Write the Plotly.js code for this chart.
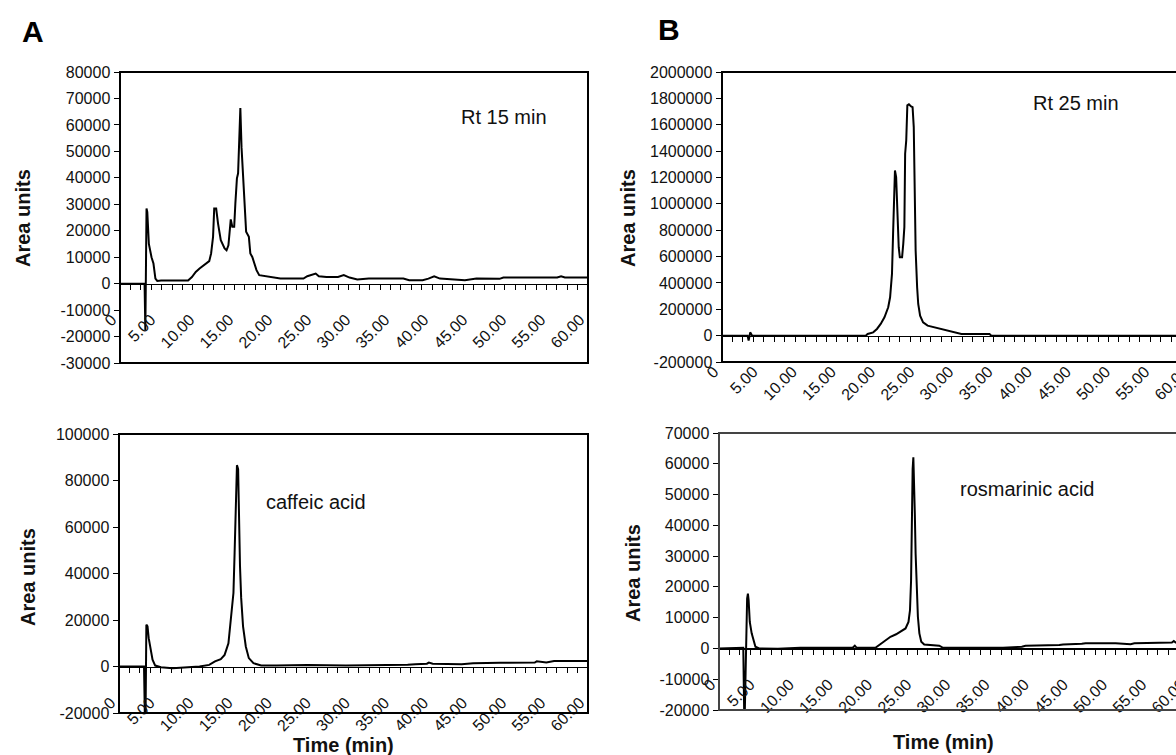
<!DOCTYPE html>
<html>
<head>
<meta charset="utf-8">
<script src="https://cdn.plot.ly/plotly-3.0.1.min.js"></script>
<style>
html, body { margin: 0; padding: 0; overflow: hidden; background: #fff; }
#chart { width: 1200px; height: 755px; }
</style>
</head>
<body>
<div id="chart"></div>
<script>
// ---------- DATA ----------
// Panel A top: sample chromatogram (Rt 15 min)
const aTopTime = [0, 3.15, 3.25, 3.4, 3.5, 3.7, 4.04, 4.29, 4.54, 4.78, 5.27, 8.73, 9.22, 9.71, 10.2, 10.95, 11.44, 11.68, 11.93, 12.08, 12.33, 12.57, 12.92, 13.41, 13.66, 13.9, 14.05, 14.2, 14.4, 14.64, 14.79, 14.99, 15.14, 15.23, 15.43, 15.58, 15.78, 15.97, 16.17, 16.52, 16.71, 16.96, 17.21, 17.5, 17.85, 18.59, 19.57, 20.56, 22.04, 23.52, 24.01, 25.09, 25.49, 26.47, 27.95, 28.69, 29.43, 30.42, 31.9, 33.38, 34.86, 36.33, 37.07, 38.8, 39.54, 40.28, 41.02, 42.74, 44.22, 45.7, 48.66, 49.15, 53.59, 56.05, 56.55, 57.04, 60];
const aTopArea = [0, 0, -17700, 28400, 27000, 15000, 10000, 7600, 1900, 1000, 1200, 1200, 2500, 4400, 5700, 7600, 8500, 11400, 17700, 28400, 28400, 22700, 16400, 13300, 12600, 14500, 19000, 24300, 21500, 21500, 30300, 39800, 41700, 51600, 66400, 51600, 41700, 29100, 19600, 17700, 11400, 10100, 7600, 5100, 3200, 2800, 2500, 1900, 1900, 1900, 2800, 3800, 2800, 2500, 2500, 3200, 2300, 1600, 1900, 1900, 1900, 1900, 1300, 1300, 1900, 2800, 1900, 1500, 1300, 1900, 1800, 2300, 2300, 2300, 2800, 2300, 2300];

// Panel A bottom: caffeic acid standard
const aBotTime = [0, 3.2, 3.3, 3.4, 3.5, 3.65, 3.8, 4.04, 4.29, 4.63, 5.37, 6.85, 9.32, 10.3, 11.54, 12.28, 13.02, 13.51, 14.0, 14.4, 14.64, 14.79, 14.94, 15.09, 15.24, 15.33, 15.48, 15.63, 15.87, 16.22, 16.61, 17.2, 18.19, 20.16, 24.1, 29.04, 33.97, 36.93, 37.91, 39.39, 39.64, 40.13, 43.83, 45.31, 48.76, 53.19, 53.44, 54.67, 55.66, 60];
const aBotArea = [0, 0, -20000, -20000, 18000, 17300, 12200, 7200, 2900, 400, -300, -700, -300, 0, 700, 2200, 3200, 5000, 10000, 23000, 31600, 48900, 73400, 86600, 84900, 63300, 43200, 29500, 17300, 8600, 3600, 1400, 400, 400, 600, 400, 400, 700, 1000, 1200, 1700, 1200, 1000, 1400, 1600, 1700, 2200, 1700, 2400, 2400];

// Panel B top: sample chromatogram (Rt 25 min)
const bTopTime = [0, 3.26, 3.4, 3.6, 3.85, 18.35, 18.59, 19.3, 19.78, 20.26, 20.74, 21.22, 21.46, 21.7, 21.84, 21.94, 22.08, 22.23, 22.32, 22.42, 22.56, 22.7, 22.99, 23.14, 23.28, 23.38, 23.52, 23.66, 23.86, 24.14, 24.33, 24.48, 24.62, 24.72, 24.91, 25.05, 25.29, 25.67, 26.25, 27.21, 28.17, 29.12, 29.84, 30.56, 34.15, 34.39, 60];
const bTopArea = [0, 0, -38000, 25000, 0, 0, 12700, 25000, 50600, 88600, 139000, 215000, 291000, 468000, 772000, 1025000, 1253000, 1203000, 1025000, 848000, 671000, 595000, 595000, 696000, 823000, 1380000, 1481000, 1747000, 1755000, 1739000, 1734000, 1582000, 1165000, 646000, 367000, 240000, 152000, 101000, 76000, 63000, 50600, 38000, 25000, 12700, 12700, 0, 0];

// Panel B bottom: rosmarinic acid standard
const bBotTime = [0, 2.25, 2.3, 3.1, 3.21, 3.3, 3.59, 3.69, 3.78, 3.93, 4.17, 4.41, 4.65, 5.13, 7.52, 10.39, 12.31, 17.1, 17.34, 17.58, 19.97, 20.45, 20.93, 21.41, 21.89, 22.61, 23.33, 23.81, 24.19, 24.38, 24.52, 24.62, 24.72, 24.81, 24.91, 25.0, 25.1, 25.24, 25.39, 25.58, 25.82, 26.2, 27.16, 28.12, 28.6, 31.47, 36.26, 38.66, 39.13, 43.45, 43.92, 46.32, 46.8, 50.63, 52.07, 52.55, 53.03, 57.82, 58.06, 58.29, 60];
const bBotArea = [0, 0, 200, 200, -20000, -20000, 16200, 17800, 15700, 8600, 4900, 2200, 540, 0, -100, 200, 200, 300, 900, 200, 200, 1100, 2200, 3200, 3800, 4600, 5700, 6500, 8600, 12400, 22100, 43700, 58300, 62100, 55600, 43700, 30800, 17800, 10300, 4900, 2200, 1300, 1100, 900, 200, 200, 200, 540, 900, 1100, 1300, 1500, 1700, 1700, 1600, 1400, 1700, 1900, 2400, 1900, 1900];

// Tick labels
const xTickVals = [0, 5, 10, 15, 20, 25, 30, 35, 40, 45, 50, 55, 60];
const xTickText = ["0", "5.00", "10.00", "15.00", "20.00", "25.00", "30.00", "35.00", "40.00", "45.00", "50.00", "55.00", "60.00"];
const aTopYTicks = [-30000, -20000, -10000, 0, 10000, 20000, 30000, 40000, 50000, 60000, 70000, 80000];
const aBotYTicks = [-20000, 0, 20000, 40000, 60000, 80000, 100000];
const bTopYTicks = [-200000, 0, 200000, 400000, 600000, 800000, 1000000, 1200000, 1400000, 1600000, 1800000, 2000000];
const bBotYTicks = [-20000, -10000, 0, 10000, 20000, 30000, 40000, 50000, 60000, 70000];

const panelLabels = ["A", "B"];
const peakLabels = ["Rt 15 min", "caffeic acid", "Rt 25 min", "rosmarinic acid"];
const yTitle = "Area units";
const xTitle = "Time (min)";

// ---------- LAYOUT ----------
const W = 1200, H = 755;
const FONT = "Liberation Sans, Arial, sans-serif";
const fx = px => px / W;
const fy = py => 1 - py / H;

// pixel boxes [left, right, top, bottom]
const boxes = [
  {l: 120, r: 588, t: 72, b: 363, yr: [-30000, 80000], yt: aTopYTicks, frame: '#000'},
  {l: 119, r: 588, t: 434, b: 713, yr: [-20000, 100000], yt: aBotYTicks, frame: '#000'},
  {l: 722, r: 1192, t: 72, b: 362, yr: [-200000, 2000000], yt: bTopYTicks, frame: '#000'},
  {l: 719, r: 1189, t: 433, b: 710, yr: [-20000, 70000], yt: bBotYTicks, frame: '#444'}
];
const series = [[aTopTime, aTopArea], [aBotTime, aBotArea], [bTopTime, bTopArea], [bBotTime, bBotArea]];

const data = [];
const layout = {
  width: W, height: H, autosize: false,
  margin: {l: 0, r: 0, t: 0, b: 0},
  paper_bgcolor: '#fff', plot_bgcolor: '#fff',
  showlegend: false,
  font: {family: FONT, color: '#111'},
  shapes: [], annotations: []
};

boxes.forEach((bx, i) => {
  const n = i === 0 ? '' : String(i + 1);
  const xa = 'xaxis' + n, ya = 'yaxis' + n;
  const xd = [fx(bx.l), fx(bx.r)];
  const yd = [fy(bx.b), fy(bx.t)];
  const zeroPos = yd[0] + (0 - bx.yr[0]) / (bx.yr[1] - bx.yr[0]) * (yd[1] - yd[0]);
  layout[xa] = {
    domain: xd, range: [0, 60], anchor: 'free', position: zeroPos,
    tickmode: 'array', tickvals: xTickVals, ticktext: xTickText,
    tickangle: -45, ticks: '', ticklabelshift: -8, ticklabelstandoff: 19,
    tickfont: {family: FONT, size: 16, color: '#111'},
    minor: {ticks: 'outside', ticklen: 5, tickwidth: 1, tickcolor: '#000', tickmode: 'linear', tick0: 0, dtick: 4 / 3, showgrid: false},
    showline: true, linecolor: '#000', linewidth: 1.5,
    showgrid: false, zeroline: false, fixedrange: true
  };
  layout[ya] = {
    domain: yd, range: bx.yr, anchor: 'x' + n,
    tickmode: 'array', tickvals: bx.yt, ticktext: bx.yt.map(v => String(v)),
    ticks: 'outside', ticklen: 5, tickwidth: 1, tickcolor: '#000',
    tickfont: {family: FONT, size: 16, color: '#111'},
    showline: true, linecolor: bx.frame, linewidth: 1.5,
    showgrid: false, zeroline: false, fixedrange: true
  };
  layout.shapes.push({
    type: 'rect', xref: 'x' + n + ' domain', yref: 'y' + n + ' domain',
    x0: 0, x1: 1, y0: 0, y1: 1, line: {color: bx.frame, width: 2}, layer: 'above'
  });
  data.push({
    x: series[i][0], y: series[i][1], xaxis: 'x' + n, yaxis: 'y' + n,
    type: 'scatter', mode: 'lines', line: {color: '#000', width: 2},
    hoverinfo: 'skip'
  });
});

// panel letters
layout.annotations.push(
  {text: panelLabels[0], xref: 'paper', yref: 'paper', x: fx(33), y: fy(32), showarrow: false, xanchor: 'center', yanchor: 'middle', font: {family: FONT, size: 30, color: '#000', weight: 'bold'}},
  {text: panelLabels[1], xref: 'paper', yref: 'paper', x: fx(669), y: fy(30), showarrow: false, xanchor: 'center', yanchor: 'middle', font: {family: FONT, size: 30, color: '#000', weight: 'bold'}}
);
// peak labels
const peakPos = [['x', 'y', 43.5, 63000], ['x2', 'y2', 18.6, 70800], ['x3', 'y3', 39.4, 1765000], ['x4', 'y4', 30.5, 51800]];
peakPos.forEach((p, i) => {
  layout.annotations.push({text: peakLabels[i], xref: p[0], yref: p[1], x: p[2], y: p[3], showarrow: false, xanchor: 'left', yanchor: 'middle', font: {family: FONT, size: 20, color: '#111'}});
});
// axis titles
[[23, 218], [28, 577], [628, 218], [633, 573]].forEach(p => {
  layout.annotations.push({text: yTitle, xref: 'paper', yref: 'paper', x: fx(p[0]), y: fy(p[1]), showarrow: false, textangle: -90, xanchor: 'center', yanchor: 'middle', font: {family: FONT, size: 20, color: '#111', weight: 'bold'}});
});
[[343, 745], [943, 742]].forEach(p => {
  layout.annotations.push({text: xTitle, xref: 'paper', yref: 'paper', x: fx(p[0]), y: fy(p[1]), showarrow: false, xanchor: 'center', yanchor: 'middle', font: {family: FONT, size: 20, color: '#111', weight: 'bold'}});
});

Plotly.newPlot('chart', data, layout, {displayModeBar: false, staticPlot: true});
</script>
</body>
</html>
